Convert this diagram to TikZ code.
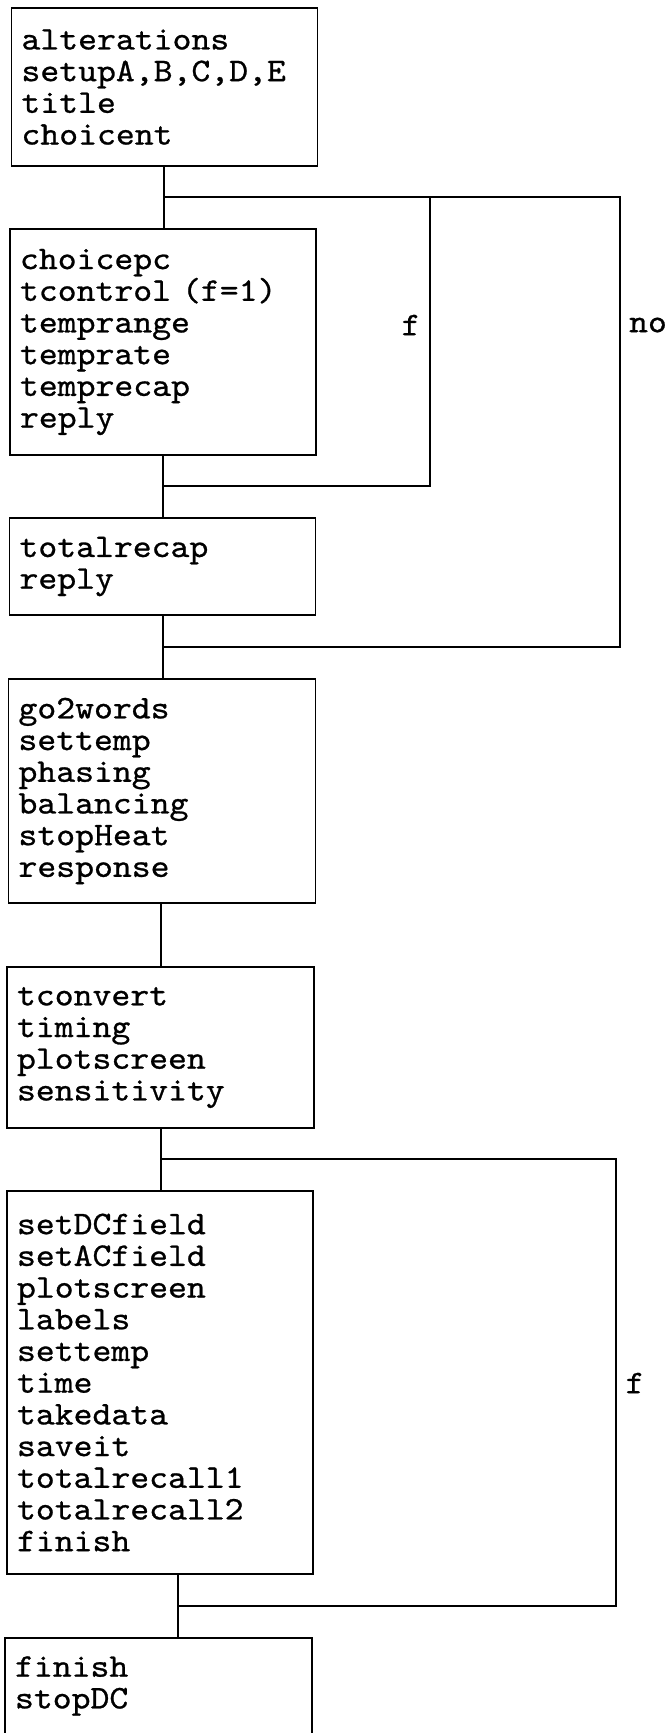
\documentclass[tikz,border=0pt]{standalone}
\usepackage{fontspec}
\newfontfamily\cour[FakeBold=0.8,FakeStretch=1.09]{lmmono10-regular.otf}
\begin{document}
\begin{tikzpicture}[x=1pt,y=-1pt,
  line width=1.6pt,
  boxnode/.style={draw, line width=1.6pt, align=left, inner xsep=10pt, inner ysep=0pt,
    font=\cour\fontsize{33}{31.7}\selectfont, anchor=center},
  lbl/.style={font=\cour\fontsize{33}{31.7}\selectfont, inner sep=0pt}]
\useasboundingbox (0,0) rectangle (667,1733);
% boxes
\node[boxnode, minimum width=306pt, minimum height=158pt, text width=286pt] (b1) at (164.5,87)
  {alterations\\setupA,B,C,D,E\\title\\choicent};
\node[boxnode, minimum width=306pt, minimum height=226pt, text width=286pt] (b2) at (163,342)
  {choicepc\\tcontrol (f=1)\\temprange\\temprate\\temprecap\\reply};
\node[boxnode, minimum width=306pt, minimum height=97pt, text width=286pt] (b3) at (162.5,566.5)
  {totalrecap\\reply};
\node[boxnode, minimum width=307pt, minimum height=224pt, text width=287pt] (b4) at (162,791)
  {go2words\\settemp\\phasing\\balancing\\stopHeat\\response};
\node[boxnode, minimum width=307pt, minimum height=161pt, text width=287pt] (b5) at (160.5,1047.5)
  {tconvert\\timing\\plotscreen\\sensitivity};
\node[boxnode, minimum width=306pt, minimum height=383pt, text width=286pt] (b6) at (160,1382.5)
  {setDCfield\\setACfield\\plotscreen\\labels\\settemp\\time\\takedata\\saveit\\totalrecall1\\totalrecall2\\finish};
\node[boxnode, minimum width=307pt, minimum height=96pt, text width=287pt] (b7) at (158.5,1686)
  {finish\\stopDC};
% trunk x positions
\coordinate (t1) at (164,0);
\coordinate (t2) at (163,0);
\coordinate (t4) at (161,0);
% junction coordinates
\coordinate (j1) at (164,197);
\coordinate (r1) at (620,197);
\coordinate (f1) at (430,197);
\coordinate (f2) at (430,486);
\coordinate (r2) at (620,647);
\coordinate (j5) at (161,1159);
\coordinate (r5) at (616,1159);
\coordinate (r6) at (616,1606);
\coordinate (t6) at (178,1606);
% connectors
\draw (b1.south -| t1) -- (b2.north -| t1);
\draw (b2.south -| t2) -- (b3.north -| t2);
\draw (b3.south -| t2) -- (b4.north -| t2);
\draw (b4.south -| t4) -- (b5.north -| t4);
\draw (b5.south -| t4) -- (b6.north -| t4);
\draw (b6.south -| t6) -- (b7.north -| t6);
\draw (j1) -- (r1) -- (r2) -- (t2 |- r2);
\draw (f1) -- (f2) -- (t2 |- f2);
\draw (j5) -- (r5) -- (r6) -- (t6);
% labels
\node[lbl] (lf1) at (411,325) {f};
\node[lbl] (lno) at (648,325) {no};
\node[lbl] (lf2) at (635,1383) {f};
\end{tikzpicture}
\end{document}
